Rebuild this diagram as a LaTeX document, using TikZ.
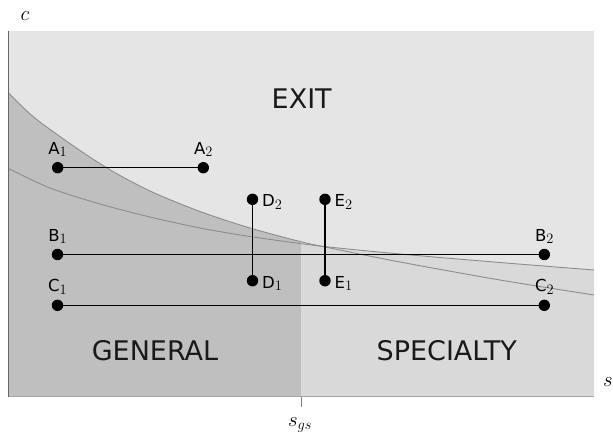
\documentclass[tikz,border=0pt]{standalone}
\usepackage[no-math]{fontspec}
\setmainfont{DejaVu Sans}
\DeclareMathSizes{20}{20}{14}{10}
\newcommand\psub[1]{\raisebox{-2.6pt}{\fontsize{13.5}{14}\selectfont$#1$}}
\begin{document}
\begin{tikzpicture}[x=1pt,y=-1pt,
  dot/.style={circle, fill=black, inner sep=0pt, minimum size=11.4pt},
  seg/.style={line width=1.2pt, black},
  ptlbl/.style={font=\fontsize{16.5}{18}\selectfont, inner sep=0pt},
  reglbl/.style={font=\fontsize{27}{30}\selectfont, inner sep=0pt, text=black!90},
  axlbl/.style={font=\fontsize{20}{22}\selectfont, inner sep=0pt},
  curve/.style={line width=0.9pt, black!45},
  exitfill/.style={fill=black!10},
  genfill/.style={fill=black!25},
  specfill/.style={fill=black!15}]
\useasboundingbox (0,0) rectangle (613,437);
\def\steep{(8.5,93) (33,116.5) (67,141.5) (107,168) (150,191) (200,211.5) (250,228) (300,241.5) (330,248) (400,262) (500,280) (594,295)}
\def\flat{(8.5,168.5) (50,188) (100,204) (150,217) (200,228) (250,236.5) (320,246) (400,254) (500,262.5) (594,270)}
% regions
\fill[exitfill] (8.5,31) rectangle (594,396.5);
\begin{scope}
  \clip (8.5,0) rectangle (301,396.5);
  \fill[genfill] plot[smooth, tension=0.5] coordinates {\steep} -- (594,396.5) -- (8.5,396.5) -- cycle;
\end{scope}
\begin{scope}
  \clip (301,0) rectangle (594,396.5);
  \fill[specfill] plot[smooth, tension=0.5] coordinates {\flat} -- (594,396.5) -- (8.5,396.5) -- cycle;
\end{scope}
\draw[curve] plot[smooth, tension=0.5] coordinates {\steep};
\draw[curve] plot[smooth, tension=0.5] coordinates {\flat};
% axes
\draw[line width=1.5pt, black!35] (8.5,396.5) -- (594,396.5);
\draw[line width=1.2pt, black!60] (8.5,31) -- (8.5,396.5);
\coordinate (tk) at (301,396.5);
\coordinate (tkb) at (301,407);
\draw[line width=0.8pt, black!50] (tk) -- (tkb);
% axis labels
\node[axlbl, anchor=base] (lc) at (25,20.7) {$c$};
\node[axlbl, anchor=base west] (ls) at (603,386.7) {$s$};
\node[axlbl, anchor=base] (lsgs) at (300,426.7) {$s_{gs}$};
% region labels
\node[reglbl, anchor=base] (exit) at (301.7,108.7) {EXIT};
\node[reglbl, anchor=base] (gen) at (155,360) {GENERAL};
\node[reglbl, anchor=base] (spec) at (446.7,360.7) {SPECIALTY};
% points
\node[dot] (A1) at (57.7,167.7) {};
\node[dot] (A2) at (203.3,167.7) {};
\node[dot] (B1) at (57.5,254.5) {};
\node[dot] (B2) at (544.3,254.5) {};
\node[dot] (C1) at (57.5,305.3) {};
\node[dot] (C2) at (544.3,305.3) {};
\node[dot] (D2) at (252.5,199.3) {};
\node[dot] (D1) at (252.5,280.7) {};
\node[dot] (E2) at (325,199.3) {};
\node[dot] (E1) at (325,280.7) {};
\draw[seg] (A1.center) -- (A2.center);
\draw[seg] (B1.center) -- (B2.center);
\draw[seg] (C1.center) -- (C2.center);
\draw[seg] (D1.center) -- (D2.center);
\draw[seg] (E1.center) -- (E2.center);
% point labels
\node[ptlbl, anchor=base] (lA1) at (57.5,154.3) {A\psub{1}};
\node[ptlbl, anchor=base] (lA2) at (203.3,154.3) {A\psub{2}};
\node[ptlbl, anchor=base] (lB1) at (57.5,241.1) {B\psub{1}};
\node[ptlbl, anchor=base] (lB2) at (544.3,241.1) {B\psub{2}};
\node[ptlbl, anchor=base] (lC1) at (57.5,291.9) {C\psub{1}};
\node[ptlbl, anchor=base] (lC2) at (544.3,291.9) {C\psub{2}};
\node[ptlbl, anchor=base west] (lD2) at (262,206.7) {D\psub{2}};
\node[ptlbl, anchor=base west] (lD1) at (262,288.1) {D\psub{1}};
\node[ptlbl, anchor=base west] (lE2) at (334.5,206.7) {E\psub{2}};
\node[ptlbl, anchor=base west] (lE1) at (334.5,288.1) {E\psub{1}};
\end{tikzpicture}
\end{document}
